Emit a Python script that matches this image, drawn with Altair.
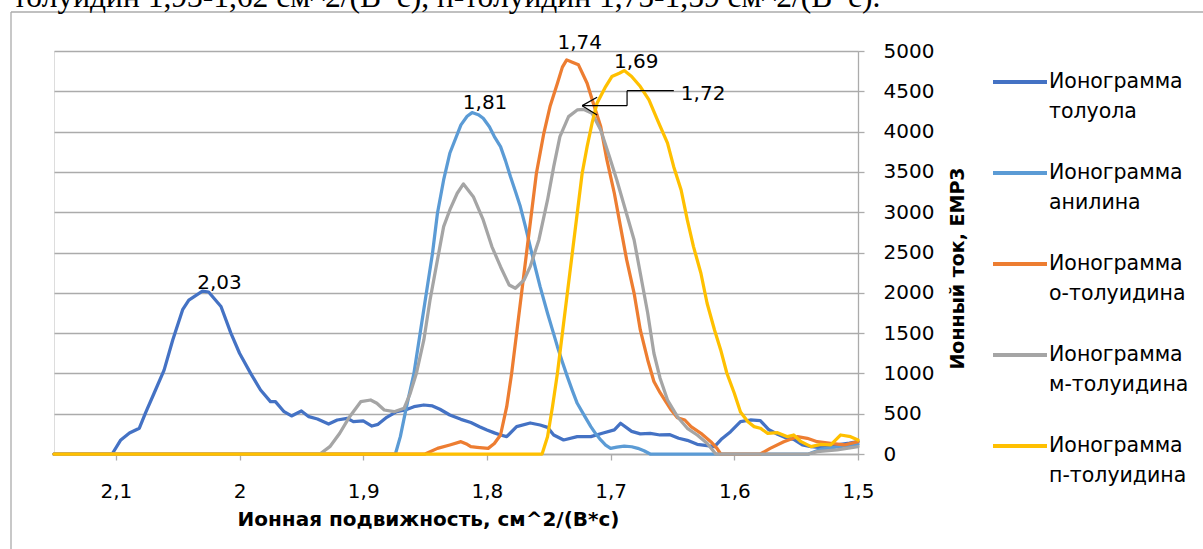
import altair as alt
import pandas as pd

# Ion mobility, cm^2/(V*s), and ion current, EMP3, for each ionogram
toluene_x = [2.15, 2.103, 2.096, 2.089, 2.081, 2.076, 2.069, 2.061, 2.054, 2.046, 2.041, 2.037, 2.030,
             2.025, 2.015, 2.007, 2.000, 1.991, 1.983, 1.975, 1.971, 1.964, 1.958, 1.950, 1.944, 1.937,
             1.928, 1.921, 1.913, 1.908, 1.900, 1.893, 1.888, 1.881, 1.873, 1.866, 1.859, 1.851, 1.844,
             1.838, 1.830, 1.821, 1.813, 1.806, 1.800, 1.794, 1.789, 1.784, 1.776, 1.765, 1.757, 1.751,
             1.746, 1.738, 1.727, 1.716, 1.706, 1.697, 1.692, 1.683, 1.676, 1.668, 1.660, 1.652, 1.645,
             1.638, 1.630, 1.622, 1.616, 1.610, 1.603, 1.595, 1.587, 1.579, 1.572, 1.565, 1.558, 1.552,
             1.545, 1.538, 1.530, 1.522, 1.514, 1.507, 1.500]
toluene_y = [0, 0, 174, 260, 320, 510, 757, 1040, 1415, 1790, 1910, 1950, 2020,
             2010, 1830, 1500, 1250, 1000, 794, 650, 650, 525, 472, 534, 463, 434,
             372, 422, 443, 401, 410, 347, 368, 455, 525, 546, 587, 608, 596,
             555, 484, 430, 390, 339, 298, 262, 236, 215, 339, 385, 360, 330,
             236, 174, 215, 215, 260, 300, 381, 280, 250, 257, 236, 240, 195,
             170, 120, 105, 91, 190, 277, 401, 422, 415, 300, 245, 200, 180,
             112, 91, 80, 100, 120, 135, 153]

aniline_x = [2.15, 1.874, 1.870, 1.865, 1.859, 1.854, 1.849, 1.844, 1.840, 1.835, 1.830, 1.821, 1.816,
             1.812, 1.807, 1.803, 1.798, 1.794, 1.789, 1.785, 1.781, 1.777, 1.773, 1.769, 1.765, 1.761,
             1.757, 1.751, 1.747, 1.743, 1.739, 1.735, 1.731, 1.727, 1.721, 1.716, 1.712, 1.708, 1.704,
             1.700, 1.695, 1.689, 1.683, 1.678, 1.673, 1.668, 1.540, 1.530, 1.515, 1.500]
aniline_y = [0, 0, 215, 587, 1002, 1498, 1994, 2490, 2987, 3400, 3731, 4083, 4190,
             4236, 4210, 4166, 4060, 3938, 3814, 3640, 3442, 3260, 3070, 2830, 2573, 2320,
             2076, 1746, 1540, 1332, 1140, 960, 790, 629, 470, 339, 250, 174, 110,
             70, 85, 99, 90, 70, 40, 0, 0, 60, 90, 120]

o_toluidine_x = [2.15, 1.850, 1.840, 1.830, 1.821, 1.816, 1.813, 1.808, 1.799, 1.794, 1.789, 1.784,
                 1.780, 1.776, 1.772, 1.768, 1.764, 1.760, 1.754, 1.749, 1.743, 1.739, 1.7355, 1.731,
                 1.726, 1.719, 1.714, 1.708, 1.703, 1.697, 1.692, 1.687, 1.681, 1.676, 1.670, 1.665,
                 1.660, 1.655, 1.651, 1.646, 1.640, 1.635, 1.627, 1.619, 1.614, 1.611, 1.579, 1.571,
                 1.560, 1.549, 1.541, 1.533, 1.522, 1.511, 1.500]
o_toluidine_y = [0, 0, 70, 112, 153, 120, 91, 83, 70, 130, 236, 587,
                 1002, 1498, 1994, 2490, 2987, 3483, 3979, 4310, 4600, 4800, 4890, 4860,
                 4828, 4600, 4352, 4062, 3648, 3235, 2821, 2408, 1994, 1539, 1167, 900,
                 760, 640, 546, 450, 422, 339, 257, 153, 70, 0, 0, 70,
                 153, 215, 195, 153, 133, 112, 153]

m_toluidine_x = [2.15, 1.935, 1.927, 1.919, 1.911, 1.902, 1.894, 1.889, 1.883, 1.875, 1.867, 1.862,
                 1.857, 1.851, 1.846, 1.840, 1.835, 1.830, 1.824, 1.819, 1.811, 1.803, 1.796, 1.789,
                 1.782, 1.777, 1.770, 1.765, 1.758, 1.751, 1.746, 1.741, 1.734, 1.727, 1.722, 1.715,
                 1.708, 1.701, 1.695, 1.688, 1.681, 1.676, 1.670, 1.665, 1.660, 1.654, 1.646, 1.638,
                 1.630, 1.622, 1.615, 1.540, 1.533, 1.517, 1.500]
m_toluidine_y = [0, 0, 91, 257, 463, 649, 670, 629, 546, 525, 567, 753,
                 1002, 1415, 1911, 2408, 2821, 3028, 3235, 3351, 3193, 2904, 2573, 2324,
                 2097, 2056, 2159, 2324, 2656, 3152, 3565, 3938, 4186, 4269, 4277, 4228,
                 4021, 3690, 3400, 3028, 2656, 2243, 1746, 1250, 940, 670, 463, 319,
                 236, 133, 0, 0, 29, 50, 91]

p_toluidine_x = [2.15, 1.7554, 1.751, 1.747, 1.743, 1.739, 1.735, 1.731, 1.727, 1.723, 1.719, 1.715,
                 1.711, 1.704, 1.699, 1.693, 1.689, 1.683, 1.676, 1.669, 1.662, 1.654, 1.649, 1.643,
                 1.638, 1.633, 1.627, 1.622, 1.616, 1.611, 1.606, 1.600, 1.595, 1.589, 1.584, 1.579,
                 1.573, 1.565, 1.557, 1.552, 1.546, 1.538, 1.530, 1.522, 1.514, 1.506, 1.500]
p_toluidine_y = [0, 0, 215, 587, 1002, 1498, 1994, 2490, 2987, 3483, 3814, 4104,
                 4352, 4559, 4683, 4724, 4757, 4683, 4559, 4393, 4140, 3856, 3565, 3276,
                 2904, 2573, 2243, 1870, 1539, 1291, 1002, 753, 520, 400, 340, 320,
                 257, 265, 215, 236, 153, 91, 120, 112, 236, 215, 174]

series_names = ["Ионограмма толуола", "Ионограмма анилина", "Ионограмма о-толуидина",
                "Ионограмма м-толуидина", "Ионограмма п-толуидина"]
series_colors = ["#4472C4", "#5B9BD5", "#ED7D31", "#A5A5A5", "#FFC000"]
series_xy = [(toluene_x, toluene_y), (aniline_x, aniline_y), (o_toluidine_x, o_toluidine_y),
             (m_toluidine_x, m_toluidine_y), (p_toluidine_x, p_toluidine_y)]

x_tick_values = [2.1, 2.0, 1.9, 1.8, 1.7, 1.6, 1.5]
y_tick_values = list(range(0, 5001, 500))

FONT = "DejaVu Sans"
SERIF = "Liberation Serif"
GRID = "#ABABAB"

rows = []
for name, (xs, ys) in zip(series_names, series_xy):
    for i, (xv, yv) in enumerate(zip(xs, ys)):
        rows.append({"series": name, "i": i, "mobility": xv, "current": yv})
data = pd.DataFrame(rows)


def peak_of(name):
    sub = data[data["series"] == name]
    row = sub.loc[sub["current"].idxmax()]
    return float(row["mobility"]), float(row["current"])


def fmt(v):
    return f"{v:.2f}".replace(".", ",")


x_enc = alt.X(
    "mobility:Q",
    scale=alt.Scale(domain=[1.5, 2.15], reverse=True, nice=False, zero=False),
    axis=alt.Axis(
        values=x_tick_values,
        labelExpr="replace(format(datum.value, '~g'), '.', ',')",
        labelFlush=False,
        labelFont=FONT, labelFontSize=20, labelColor="black", labelPadding=21,
        tickSize=6, tickColor=GRID, tickWidth=1.3,
        domainColor=GRID, domainWidth=1.3, grid=False,
        titleFont=FONT, titleFontSize=20, titleFontWeight="bold", titleColor="black",
        titleX=374, titleY=65, titleBaseline="middle", titleAlign="center",
    ),
    title="Ионная подвижность, см^2/(В*с)",
)
y_enc = alt.Y(
    "current:Q",
    scale=alt.Scale(domain=[0, 5000], nice=False),
    axis=alt.Axis(
        orient="right", values=y_tick_values, format="d",
        labelFont=FONT, labelFontSize=20, labelColor="black", labelAlign="left",
        labelPadding=19, tickSize=6, tickColor=GRID, tickWidth=1.3,
        domainColor=GRID, domainWidth=1.3,
        grid=True, gridColor=GRID, gridWidth=1.3,
        titleFont=FONT, titleFontSize=19, titleFontWeight="bold", titleColor="black",
        titleAngle=270, titleX=99, titleY=217, titleBaseline="middle", titleAlign="center",
    ),
    title="Ионный ток, ЕМР3",
)
color_enc = alt.Color(
    "series:N",
    scale=alt.Scale(domain=series_names, range=series_colors),
    legend=alt.Legend(
        orient="none", legendX=937, legendY=2, title=None, padding=0,
        symbolType="stroke", symbolSize=2916, symbolStrokeWidth=4,
        labelFont=FONT, labelFontSize=20.5, labelColor="black", labelLimit=300, labelOffset=0,
        labelExpr="split(datum.label, ' ')", rowPadding=21,
    ),
)

layers = []
for name in series_names:
    layers.append(
        alt.Chart(data)
        .transform_filter(alt.datum.series == name)
        .mark_line(strokeWidth=3.25, strokeJoin="round", strokeCap="round")
        .encode(x=x_enc, y=y_enc, color=color_enc, order="i:Q")
    )

# Peak labels placed above their maxima
label_offsets = {
    "Ионограмма толуола": (17, -2),
    "Ионограмма анилина": (13, -4),
    "Ионограмма о-толуидина": (13, -11),
    "Ионограмма п-толуидина": (12, -3),
}
for name, (dx, dy) in label_offsets.items():
    px, py = peak_of(name)
    pk = pd.DataFrame({"mobility": [px], "current": [py], "label": [fmt(px)]})
    layers.append(
        alt.Chart(pk)
        .mark_text(font=FONT, fontSize=20, color="black", align="center",
                   baseline="alphabetic", dx=dx, dy=dy)
        .encode(x=x_enc, y=y_enc, text="label:N")
    )

# Callout for the m-toluidine maximum: elbow leader with an open arrowhead
mx, my = peak_of("Ионограмма м-толуидина")
tip_x, tip_y = mx + 0.001, my + 45
elbow_x, top_y = mx - 0.0353, my + 231
end_x = mx - 0.0731
wing_x = mx - 0.0111
segments = pd.DataFrame({
    "mobility": [tip_x, elbow_x, elbow_x, tip_x, tip_x],
    "current": [tip_y, tip_y, top_y, tip_y, tip_y],
    "mobility2": [elbow_x, elbow_x, end_x, wing_x, wing_x],
    "current2": [tip_y, top_y, top_y, tip_y + 105, tip_y - 115],
})
layers.append(
    alt.Chart(segments).mark_rule(color="black", strokeWidth=1.2)
    .encode(x=x_enc, y=y_enc, x2="mobility2:Q", y2="current2:Q")
)
callout = pd.DataFrame({"mobility": [end_x], "current": [top_y], "label": [fmt(mx)]})
layers.append(
    alt.Chart(callout)
    .mark_text(font=FONT, fontSize=20, color="black", align="left", baseline="alphabetic", dx=7, dy=9)
    .encode(x=x_enc, y=y_enc, text="label:N")
)

# Chart frame and the line of document text above it
one = pd.DataFrame({"k": [0]})
frame_color = "#ABABAB"
layers.append(
    alt.Chart(one).mark_rule(color=frame_color, strokeWidth=1.3)
    .encode(x=alt.value(-43), x2=alt.value(1200), y=alt.value(-39))
)
layers.append(
    alt.Chart(one).mark_rule(color=frame_color, strokeWidth=1.3)
    .encode(x=alt.value(-43), y=alt.value(-39), y2=alt.value(520))
)
layers.append(
    alt.Chart(one)
    .mark_text(font=SERIF, fontSize=31.5, color="black", align="left", baseline="alphabetic")
    .encode(x=alt.value(-41), y=alt.value(-44.5),
            text=alt.value("толуидин 1,93-1,62 см^2/(В*с), п-толуидин 1,75-1,59 см^2/(В*с)."))
)

chart = (
    alt.layer(*layers)
    .properties(
        width=804, height=403,
        autosize=alt.AutoSizeParams(type="none"),
        padding={"left": 54, "top": 51, "right": 345, "bottom": 95},
        background="white",
    )
    .configure_view(stroke=None)
    .configure(style={"guide-label": {"lineHeight": 30}})
)

chart.save("out.html", embed_options={"renderer": "svg", "actions": False})
